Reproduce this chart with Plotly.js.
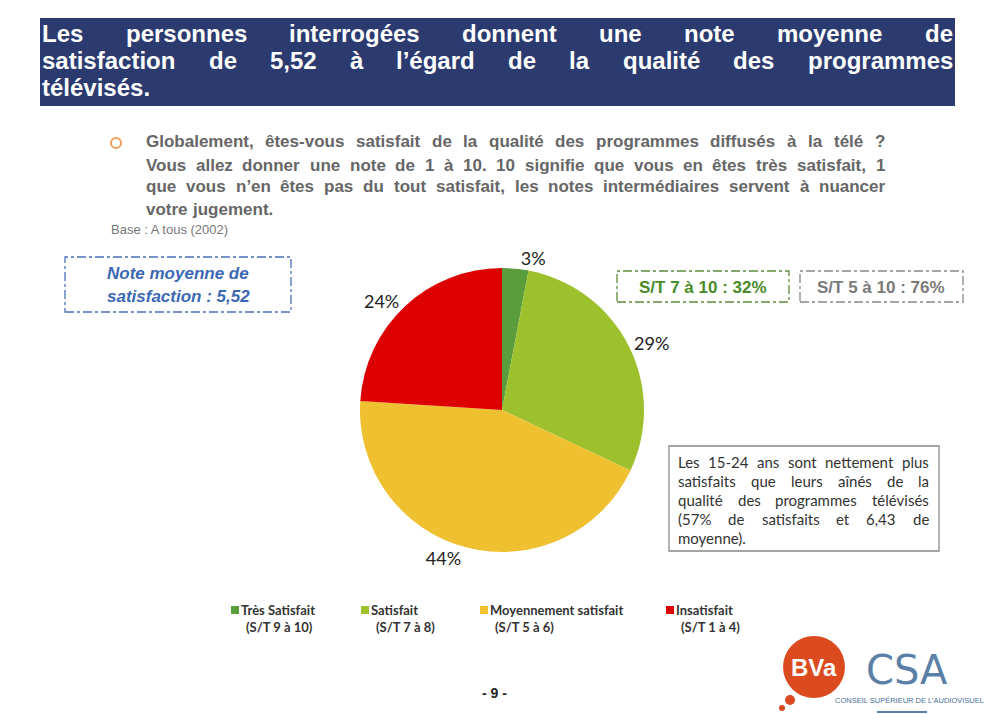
<!DOCTYPE html>
<html><head><meta charset="utf-8">
<script src="https://cdn.plot.ly/plotly-3.0.1.min.js"></script>
<style>html,body{margin:0;padding:0;background:#fff}#chart{width:992px;height:714px}</style>
</head><body><div id="chart"></div>
<script>
// ---- data ----
const categories = ['Très Satisfait', 'Satisfait', 'Moyennement satisfait', 'Insatisfait'];
const subLabels = ['(S/T 9 à 10)', '(S/T 7 à 8)', '(S/T 5 à 6)', '(S/T 1 à 4)'];
const values = [3, 29, 44, 24];
const sliceColors = ['#5a9e3c', '#9cc12c', '#efc02f', '#dc0000'];
const meanScore = '5,52';
const st7to10 = 32;
const st5to10 = 76;
const titleLines = [
  'Les personnes interrogées donnent une note moyenne de',
  'satisfaction de 5,52 à l’égard de la qualité des programmes',
  'télévisés.'
];
const questionLines = [
  'Globalement, êtes-vous satisfait de la qualité des programmes diffusés à la télé ?',
  'Vous allez donner une note de 1 à 10. 10 signifie que vous en êtes très satisfait, 1',
  'que vous n’en êtes pas du tout satisfait, les notes intermédiaires servent à nuancer',
  'votre jugement.'
];
const baseText = 'Base : A tous (2002)';
const noteLines = [
  'Les 15-24 ans sont nettement plus',
  'satisfaits que leurs aînés de la',
  'qualité des programmes télévisés',
  '(57% de satisfaits et 6,43 de',
  'moyenne).'
];

// ---- helpers ----
const W = 992, H = 714;
const X = p => p / W, Y = p => 1 - p / H;
const ctx = document.createElement('canvas').getContext('2d');
const anns = [], shapes = [];

function textLine(text, x0, x1, yc, font, justify) {
  const words = text.split(' ');
  ctx.font = (font.style || 'normal') + ' ' + (font.weight || 'normal') + ' ' + font.size + 'px "' + font.family + '"';
  const widths = words.map(w => ctx.measureText(w).width);
  const total = widths.reduce((a, b) => a + b, 0);
  const sp = ctx.measureText(' ').width;
  let gap = sp;
  if (justify && words.length > 1) gap = Math.max(sp * 0.6, (x1 - x0 - total) / (words.length - 1));
  let x = x0;
  words.forEach((w, i) => {
    anns.push({text: w, x: X(x), y: Y(yc), xref: 'paper', yref: 'paper', xanchor: 'left', yanchor: 'middle',
      showarrow: false, borderpad: 0, borderwidth: 0, font: font});
    x += widths[i] + gap;
  });
}
function ann(text, x, y, font, xanchor) {
  anns.push({text: text, x: X(x), y: Y(y), xref: 'paper', yref: 'paper', xanchor: xanchor || 'center', yanchor: 'middle',
    showarrow: false, borderpad: 0, borderwidth: 0, font: font});
}
function rect(x0, y0, x1, y1, line, fill) {
  shapes.push({type: 'rect', xref: 'paper', yref: 'paper', x0: X(x0), x1: X(x1), y0: Y(y1), y1: Y(y0),
    line: line || {width: 0}, fillcolor: fill || 'rgba(0,0,0,0)', layer: 'below'});
}
function circle(cx, cy, r, line, fill) {
  shapes.push({type: 'circle', xref: 'paper', yref: 'paper', x0: X(cx - r), x1: X(cx + r), y0: Y(cy + r), y1: Y(cy - r),
    line: line || {width: 0}, fillcolor: fill || 'rgba(0,0,0,0)'});
}

// ---- header bar ----
rect(40, 18, 955, 106, {width: 0}, '#2b3b70');
const tFont = {family: 'Liberation Sans', size: 24, color: '#ffffff', weight: 'bold'};
const titleY = [33, 60, 87];
titleLines.forEach((l, i) => textLine(l, 42, 953, titleY[i], tFont, i < titleLines.length - 1));

// ---- question ----
circle(116, 143, 5, {color: '#f0a060', width: 2});
const qFont = {family: 'Liberation Sans', size: 17, color: '#666666', weight: 'bold'};
const qY = [142, 165, 187, 209];
questionLines.forEach((l, i) => textLine(l, 146, 885, qY[i], qFont, i < questionLines.length - 1));
ann(baseText, 111, 230, {family: 'Liberation Sans', size: 13, color: '#777777'}, 'left');

// ---- left box ----
rect(65, 257, 291, 312, {color: '#4a70b8', width: 1.3, dash: 'dashdot'});
const bFont = {family: 'Liberation Sans', size: 17, color: '#3c68b4', weight: 'bold', style: 'italic'};
ann('Note moyenne de', 178, 273, bFont);
ann('satisfaction : ' + meanScore, 178, 296, bFont);

// ---- S/T boxes ----
rect(617, 271, 789, 302, {color: '#5c8c3c', width: 1.3, dash: 'dashdot'});
ann('S/T 7 à 10 : ' + st7to10 + '%', 703, 287, {family: 'Liberation Sans', size: 17, color: '#4a8a28', weight: 'bold'});
rect(800, 271, 963, 302, {color: '#888888', width: 1.3, dash: 'dashdot'});
ann('S/T 5 à 10 : ' + st5to10 + '%', 881, 287, {family: 'Liberation Sans', size: 17, color: '#7a7a7a', weight: 'bold'});

// ---- note box ----
rect(669, 446, 939, 551, {color: '#888888', width: 1.3}, '#ffffff');
const nFont = {family: 'Lato', size: 15, color: '#333333'};
const nY = [462, 481, 500, 519, 538];
noteLines.forEach((l, i) => textLine(l, 678, 929, nY[i], nFont, i < noteLines.length - 1));

// ---- custom legend ----
const legX = [235, 365, 484, 670];
const lgFont = {family: 'Lato', size: 13, color: '#333333', weight: 'bold'};
categories.forEach((c, i) => {
  shapes.push({type: 'rect', xref: 'paper', yref: 'paper', x0: X(legX[i] - 4), x1: X(legX[i] + 4),
    y0: Y(614), y1: Y(606), line: {width: 0}, fillcolor: sliceColors[i]});
  ann(c, legX[i] + 6, 610, lgFont, 'left');
  ann(subLabels[i], legX[i] + 11, 627, lgFont, 'left');
});

// ---- page number ----
ann('- 9 -', 494, 693, {family: 'Liberation Sans', size: 14, color: '#222222', weight: 'bold'});

// ---- logos ----
circle(814, 667, 31, {width: 0}, '#dc4a20');
circle(790, 700, 5, {width: 0}, '#dc4a20');
circle(782, 708, 3, {width: 0}, '#dc4a20');
ann('BVa', 814, 667, {family: 'Liberation Sans', size: 24, color: '#ffffff', weight: 'bold'});
ann('CSA', 907, 670, {family: 'DejaVu Sans', size: 40, color: '#5b80a8'});
ann('CONSEIL SUPÉRIEUR DE L’AUDIOVISUEL', 909, 700, {family: 'Liberation Sans', size: 7.5, color: '#4b6f98'});
shapes.push({type: 'line', xref: 'paper', yref: 'paper', x0: X(877), x1: X(927), y0: Y(712), y1: Y(712), line: {color: '#5b80a8', width: 2}});

// ---- pie ----
const trace = {
  type: 'pie', values: values, labels: categories, sort: false, direction: 'clockwise', rotation: 0,
  marker: {colors: sliceColors, line: {width: 0}},
  texttemplate: '%{value}%', textposition: 'outside', textinfo: 'text',
  outsidetextfont: {family: 'Lato', size: 18, color: '#222222'},
  domain: {x: [X(360), X(644)], y: [Y(552), Y(268)]},
  showlegend: false, hoverinfo: 'none', automargin: false
};

Plotly.newPlot('chart', [trace], {
  width: W, height: H, margin: {l: 0, r: 0, t: 0, b: 0},
  paper_bgcolor: '#ffffff', plot_bgcolor: '#ffffff', showlegend: false,
  shapes: shapes, annotations: anns
}, {displayModeBar: false, staticPlot: true});
</script></body></html>
